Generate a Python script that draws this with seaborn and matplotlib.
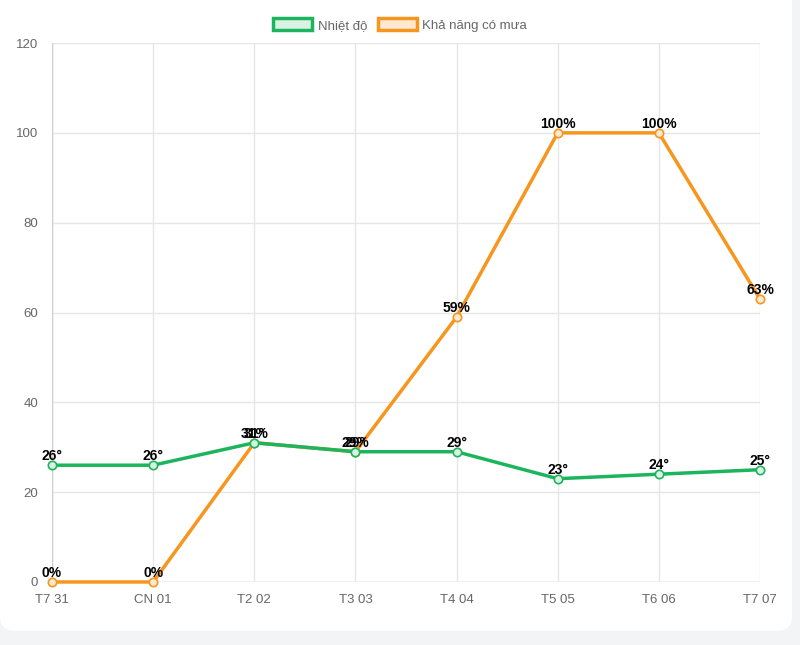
import numpy as np
import pandas as pd
import matplotlib.pyplot as plt
import seaborn as sns
from matplotlib.patches import Patch, FancyBboxPatch

days = ["T7 31", "CN 01", "T2 02", "T3 03", "T4 04", "T5 05", "T6 06", "T7 07"]
nhiet_do = [26, 26, 31, 29, 29, 23, 24, 25]
kha_nang_mua = [0, 0, 31, 29, 59, 100, 100, 63]

green = "#1db45e"
orange = "#f7961f"

sns.set_theme(style="white")
plt.rcParams["font.family"] = ["Arial", "Liberation Sans", "DejaVu Sans"]

fig = plt.figure(figsize=(8, 6.45), dpi=100, facecolor="#f3f4f5")
# white card behind the chart
card = FancyBboxPatch((0, 0.022), 0.99, 1.0, boxstyle="round,pad=0,rounding_size=0.02",
                      transform=fig.transFigure, facecolor="white", edgecolor="none", zorder=-10)
fig.patches.append(card)

ax = fig.add_axes([0.065, 0.0977, 0.885, 0.8356])
ax.set_facecolor("none")
ax.set_zorder(1)

df = pd.DataFrame({"x": np.arange(len(days)), "temp": nhiet_do, "rain": kha_nang_mua})

# rain first so the temperature line sits on top
sns.lineplot(data=df, x="x", y="rain", ax=ax, color=orange, linewidth=2.5,
             marker="o", markersize=6, markerfacecolor="#fde9d2",
             markeredgecolor=orange, markeredgewidth=1.2, clip_on=False, zorder=3)
sns.lineplot(data=df, x="x", y="temp", ax=ax, color=green, linewidth=2.5,
             marker="o", markersize=6, markerfacecolor="#d9f2e4",
             markeredgecolor=green, markeredgewidth=1.2, clip_on=False, zorder=4)

for i, v in enumerate(nhiet_do):
    ax.text(i, v + 0.4, f"{v}°", ha="center", va="bottom", fontsize=10,
            fontweight="bold", color="black", zorder=5)
for i, v in enumerate(kha_nang_mua):
    ax.text(i, v + 0.4, f"{v}%", ha="center", va="bottom", fontsize=10,
            fontweight="bold", color="black", zorder=5)

ax.set_xlim(0, len(days) - 1)
ax.set_ylim(0, 120)
ax.set_xticks(range(len(days)))
ax.set_xticklabels(days)
ax.set_yticks(range(0, 121, 20))
ax.grid(True, color="#e6e6e6", linewidth=1)
for s in ax.spines.values():
    s.set_visible(False)
ax.axhline(0, color="#d0d0d0", linewidth=1, zorder=1)
ax.axvline(0, color="#d0d0d0", linewidth=1, zorder=1)
ax.tick_params(axis="both", colors="#e0e0e0", labelcolor="#666666", labelsize=9.5,
               length=6, width=1, pad=3)
ax.tick_params(axis="y", length=0, pad=10)
ax.set_xlabel("")
ax.set_ylabel("")

handles = [Patch(facecolor="#d9f2e4", edgecolor=green, linewidth=2.5, label="Nhiệt độ"),
           Patch(facecolor="#fde9d2", edgecolor=orange, linewidth=2.5, label="Khả năng có mưa")]
fig.legend(handles=handles, loc="upper center", bbox_to_anchor=(0.5, 0.99), ncol=2,
           frameon=False, fontsize=9.5, handlelength=3.0, handleheight=1.0,
           handletextpad=0.4, columnspacing=0.8, labelcolor="#666666")

fig.savefig("out.png", dpi=100, facecolor=fig.get_facecolor())
